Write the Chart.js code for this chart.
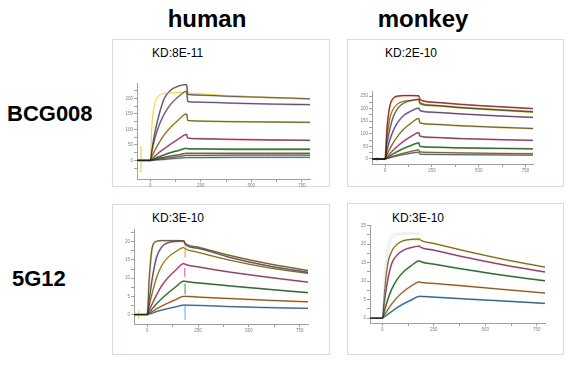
<!DOCTYPE html>
<html>
<head>
<meta charset="utf-8">
<script src="https://cdn.jsdelivr.net/npm/chart.js@4.4.1/dist/chart.umd.min.js"></script>
<style>
    body { margin: 0; background: #fff; font-family: 'Liberation Sans', Arial, sans-serif; }
    #page { position: relative; width: 579px; height: 367px; overflow: hidden; background: #fff; }
    .box { position: absolute; border: 1px solid #d3dbe5; box-sizing: border-box; }
    .lbl { position: absolute; white-space: nowrap; color: #000; }
    .head { font-weight: bold; font-size: 24px; line-height: 24px; text-align: center; width: 120px; }
    .row { font-weight: bold; font-size: 22px; line-height: 22px; }
    .kd { font-size: 12px; line-height: 12px; }
    canvas { position: absolute; }
</style>
</head>
<body>
<div id="page">
    <div class="lbl head" style="left:147px; top:7px;">human</div>
    <div class="lbl head" style="left:363px; top:7px;">monkey</div>
    <div class="lbl row" style="left:7px; top:103px;">BCG008</div>
    <div class="lbl row" style="left:12px; top:268px;">5G12</div>

    <div class="box" style="left:112px; top:39px; width:218px; height:148px;"></div>
    <div class="box" style="left:347px; top:39px; width:217px; height:148px;"></div>
    <div class="box" style="left:112px; top:204px; width:218px; height:151px;"></div>
    <div class="box" style="left:347px; top:203px; width:217px; height:152px;"></div>

    <div class="lbl kd" style="left:152px; top:47px;">KD:8E-11</div>
    <div class="lbl kd" style="left:385px; top:47px;">KD:2E-10</div>
    <div class="lbl kd" style="left:152px; top:212px;">KD:3E-10</div>
    <div class="lbl kd" style="left:392px; top:212px;">KD:3E-10</div>

    <canvas id="bcgHumanChart" width="193" height="110" style="left:123px; top:79px;"></canvas>
    <canvas id="bcgMonkeyChart" width="181" height="87" style="left:358px; top:87px;"></canvas>
    <canvas id="mabHumanChart" width="194" height="109" style="left:120px; top:225px;"></canvas>
    <canvas id="mabMonkeyChart" width="195" height="112" style="left:356px; top:221px;"></canvas>
</div>

<script>
// ==================== DATA ====================

// sample times (s) shared by every sensorgram
const timeS = [-65, 0, 10, 25, 45, 70, 100, 140, 180, 186, 250, 400, 600, 790];

const xTickValues = [0, 125, 250, 375, 500, 625, 750];
const xTickLabels = ['0', '', '250', '', '500', '', '750'];

// BCG008 y axis (RU)
const bcgHumanYTicks = [-25, 0, 25, 50, 75, 100, 125, 150, 175, 200, 225];
const bcgMonkeyYTicks = [0, 25, 50, 75, 100, 125, 150, 175, 200, 225, 250];
// 5G12 y axis (RU)
const mabHumanYTicks = [0, 2.5, 5, 7.5, 10, 12.5, 15, 17.5, 20, 22.5];
const mabMonkeyYTicks = [0, 2.5, 5, 7.5, 10, 12.5, 15, 17.5, 20, 22.5, 25];

// BCG008 - human
const bcgHumanCurves = [
    [0, 0, 125, 188, 210, 216, 218, 220, 221, 219, 215, 209, 203, 198],
    [0, 0, 40, 95, 150, 200, 226, 240, 245, 213, 211, 207, 203, 199],
    [0, 0, 35, 75, 115, 150, 180, 206, 223, 190, 188, 185, 182, 180],
    [0, 0, 15, 35, 58, 83, 106, 131, 150, 129, 127, 125, 124, 123],
    [0, 0, 6, 15, 26, 38, 52, 69, 84, 72, 70, 68, 66, 65],
    [0, 0, 3, 7, 12, 18, 25, 32, 39, 37, 37, 36, 36, 36],
    [0, 0, 1.5, 4, 7, 10, 14, 18, 23, 23, 23, 23, 23, 23],
    [0, 0, 1, 2.5, 4.5, 7, 9, 12, 16, 16, 16, 17, 17, 17],
    [0, 0, 0.5, 1.2, 2, 3, 5, 7, 9, 9, 9, 10, 10, 10]
];
const bcgHumanFit = [false, true, true, true, true, true, true, true, true];
const bcgHumanColors = ['#ecd650', '#a8a8a8', '#c79ad4', '#d2c060', '#ea7aa8', '#62ac5e', '#a0a0a0', '#f4b060', '#9ccdee'];
const bcgHumanSpikes = [{ t: -45, low: -38, high: 44, color: '#ecd650' }];

// BCG008 - monkey
const bcgMonkeyCurves = [
    [0, 0, 120, 210, 242, 250, 252, 252, 251, 236, 226, 217, 208, 200],
    [0, 0, 80, 160, 200, 220, 229, 233, 236, 219, 212, 203, 194, 186],
    [0, 0, 60, 118, 170, 203, 222, 232, 237, 223, 214, 205, 196, 188],
    [0, 0, 35, 75, 115, 148, 173, 191, 202, 192, 186, 179, 171, 165],
    [0, 0, 18, 40, 66, 93, 119, 143, 161, 143, 138, 132, 126, 121],
    [0, 0, 9, 21, 36, 53, 71, 90, 105, 91, 86, 81, 77, 74],
    [0, 0, 5, 12, 21, 31, 42, 54, 64, 50, 47, 44, 42, 40],
    [0, 0, 3, 6, 11, 17, 23, 30, 36, 28, 26, 24, 22, 21],
    [0, 0, 2, 5, 9, 13, 18, 23, 27, 19, 18, 17, 16, 15]
];
const bcgMonkeyFit = [true, true, true, true, true, true, true, true, true];
const bcgMonkeyColors = ['#ee6a62', '#ecdb62', '#b0b0b0', '#b092cc', '#d2c060', '#e07eae', '#64b264', '#f4b060', '#8cc4e8'];
const bcgMonkeySpikes = [{ t: -43, low: -6, high: 6, color: '#f4b060' }];

// 5G12 - human
const mabHumanCurves = [
    [0, 0, 10, 18.5, 20.1, 20.3, 20.3, 20.3, 20.2, 19.6, 18.5, 16.3, 13.9, 12.1],
    [0, 0, 4, 10, 15.5, 18.5, 19.7, 20.1, 20.2, 19.3, 18.2, 15.8, 13.3, 11.6],
    [0, 0, 2.5, 6, 10, 13.3, 15.6, 17.3, 18.4, 18.1, 17.1, 15.0, 12.8, 11.3],
    [0, 0, 1.2, 3, 5.3, 7.8, 10, 12.2, 14, 13.8, 13.1, 11.7, 10.2, 8.9],
    [0, 0, 0.6, 1.6, 2.9, 4.3, 5.8, 7.6, 9.2, 9.1, 8.7, 7.9, 6.9, 6.0],
    [0, 0, 0.3, 0.8, 1.5, 2.3, 3.1, 4.1, 5.0, 5.0, 4.8, 4.4, 3.9, 3.5],
    [0, 0, 0.15, 0.4, 0.8, 1.2, 1.6, 2.1, 2.6, 2.6, 2.5, 2.2, 1.9, 1.7]
];
const mabHumanFit = [true, true, true, true, true, true, true];
const mabHumanColors = ['#c4b452', '#b08ccc', '#ecd260', '#ea80b2', '#68ae68', '#f4aa52', '#82bce6'];
const mabHumanSpikes = [
    { t: -42, low: -1, high: 1, color: '#ecd260' },
    { t: 186, low: 15.8, high: 18.6, color: '#f4aa52' },
    { t: 184, low: 10.5, high: 12.7, color: '#ea80b2' },
    { t: 186, low: 5.7, high: 8.3, color: '#68ae68' },
    { t: 186, low: -1.3, high: 2.2, color: '#82bce6' }
];

// 5G12 - monkey
const mabMonkeyCurves = [
    [0, 0, 12, 20, 22.6, 23, 23.1, 23.1, 23.1, null, null, null, null, null],
    [0, 0, 9, 17, 21.5, 22.5, 22.8, 22.8, 22.8, null, null, null, null, null],
    [0, 0, 7, 14.3, 18, 19.9, 20.9, 21.3, 21.4, 21.1, 20.2, 18.2, 15.8, 13.8],
    [0, 0, 4.5, 10, 14.7, 17, 18.3, 19.1, 19.5, 19.2, 18.4, 16.5, 14.3, 12.5],
    [0, 0, 2, 4.8, 7.8, 10.3, 12.4, 14.2, 15.5, 15.3, 14.6, 13.2, 11.5, 10.1],
    [0, 0, 0.9, 2.2, 3.8, 5.5, 7.1, 8.7, 9.8, 9.7, 9.4, 8.7, 7.7, 6.8],
    [0, 0, 0.4, 1, 1.8, 2.8, 3.8, 4.9, 5.9, 5.9, 5.7, 5.2, 4.6, 4.0]
];
const mabMonkeyFit = [false, false, true, true, true, true, true];
const mabMonkeyColors = ['#efefef', '#e8e8e8', '#e0c060', '#e87cae', '#62b462', '#eeae62', '#6cb2e6'];
const mabMonkeySpikes = [];

// ==================== CHARTS ====================

document.addEventListener('DOMContentLoaded', function() {
    createSensorgram('bcgHumanChart', bcgHumanCurves, bcgHumanFit, bcgHumanColors, bcgHumanSpikes,
        { xMin: -65, xMax: 790, yMin: -60, yMax: 250, yTicks: bcgHumanYTicks, yLabelStep: 50 });
    createSensorgram('bcgMonkeyChart', bcgMonkeyCurves, bcgMonkeyFit, bcgMonkeyColors, bcgMonkeySpikes,
        { xMin: -70, xMax: 790, yMin: -20, yMax: 270, yTicks: bcgMonkeyYTicks, yLabelStep: 50 });
    createSensorgram('mabHumanChart', mabHumanCurves, mabHumanFit, mabHumanColors, mabHumanSpikes,
        { xMin: -65, xMax: 790, yMin: -2.6, yMax: 23.5, yTicks: mabHumanYTicks, yLabelStep: 5 });
    createSensorgram('mabMonkeyChart', mabMonkeyCurves, mabMonkeyFit, mabMonkeyColors, mabMonkeySpikes,
        { xMin: -60, xMax: 790, yMin: -1.3, yMax: 25.2, yTicks: mabMonkeyYTicks, yLabelStep: 5 });
});

// turn one row of values into {x, y} points on the shared time grid
function toPoints(values) {
    return timeS.map((t, i) => ({ x: t, y: values[i] }));
}

function createSensorgram(canvasId, curves, fits, colors, spikes, axis) {
    const ctx = document.getElementById(canvasId).getContext('2d');
    const datasets = [];

    curves.forEach((values, i) => {
        // measured response (coloured)
        datasets.push({
            data: toPoints(values),
            borderColor: colors[i],
            borderWidth: fits[i] ? 1.8 : 1.2,
            order: 2
        });
        // fitted curve drawn on top in black
        if (fits[i]) {
            datasets.push({
                data: toPoints(values),
                borderColor: 'rgba(35, 35, 35, 0.7)',
                borderWidth: 0.9,
                order: 1
            });
        }
    });

    // injection artefacts
    spikes.forEach(s => {
        datasets.push({
            data: [{ x: s.t, y: s.low }, { x: s.t, y: s.high }],
            borderColor: s.color,
            borderWidth: 1.3,
            tension: 0,
            cubicInterpolationMode: 'default',
            order: 3
        });
    });

    const tickFont = { family: 'Liberation Sans', size: 4.5 };
    const axisColor = '#a0a0a0';

    new Chart(ctx, {
        type: 'line',
        data: { datasets: datasets },
        options: {
            responsive: false,
            animation: false,
            events: [],
            layout: { padding: { top: 4, right: 6, left: 0, bottom: 0 } },
            elements: {
                point: { radius: 0 },
                line: { cubicInterpolationMode: 'monotone', borderCapStyle: 'round' }
            },
            plugins: { legend: { display: false }, tooltip: { enabled: false } },
            scales: {
                x: {
                    type: 'linear',
                    min: axis.xMin,
                    max: axis.xMax,
                    afterBuildTicks: s => { s.ticks = xTickValues.map(v => ({ value: v })); },
                    afterFit: s => { s.height = 10; },
                    ticks: {
                        autoSkip: false,
                        maxRotation: 0,
                        padding: 1,
                        color: '#808080',
                        font: tickFont,
                        callback: (v) => xTickLabels[xTickValues.indexOf(v)] ?? ''
                    },
                    grid: { display: true, drawOnChartArea: false, tickLength: 3, color: axisColor },
                    border: { display: true, color: axisColor, width: 1 }
                },
                y: {
                    type: 'linear',
                    min: axis.yMin,
                    max: axis.yMax,
                    afterBuildTicks: s => { s.ticks = axis.yTicks.map(v => ({ value: v })); },
                    afterFit: s => { s.width = 14; },
                    ticks: {
                        autoSkip: false,
                        padding: 1,
                        color: '#808080',
                        font: tickFont,
                        callback: (v) => (v >= 0 && v % axis.yLabelStep === 0) ? String(v) : ''
                    },
                    grid: { display: true, drawOnChartArea: false, tickLength: 3, color: axisColor },
                    border: { display: true, color: axisColor, width: 1 }
                }
            }
        }
    });
}
</script>
</body>
</html>
